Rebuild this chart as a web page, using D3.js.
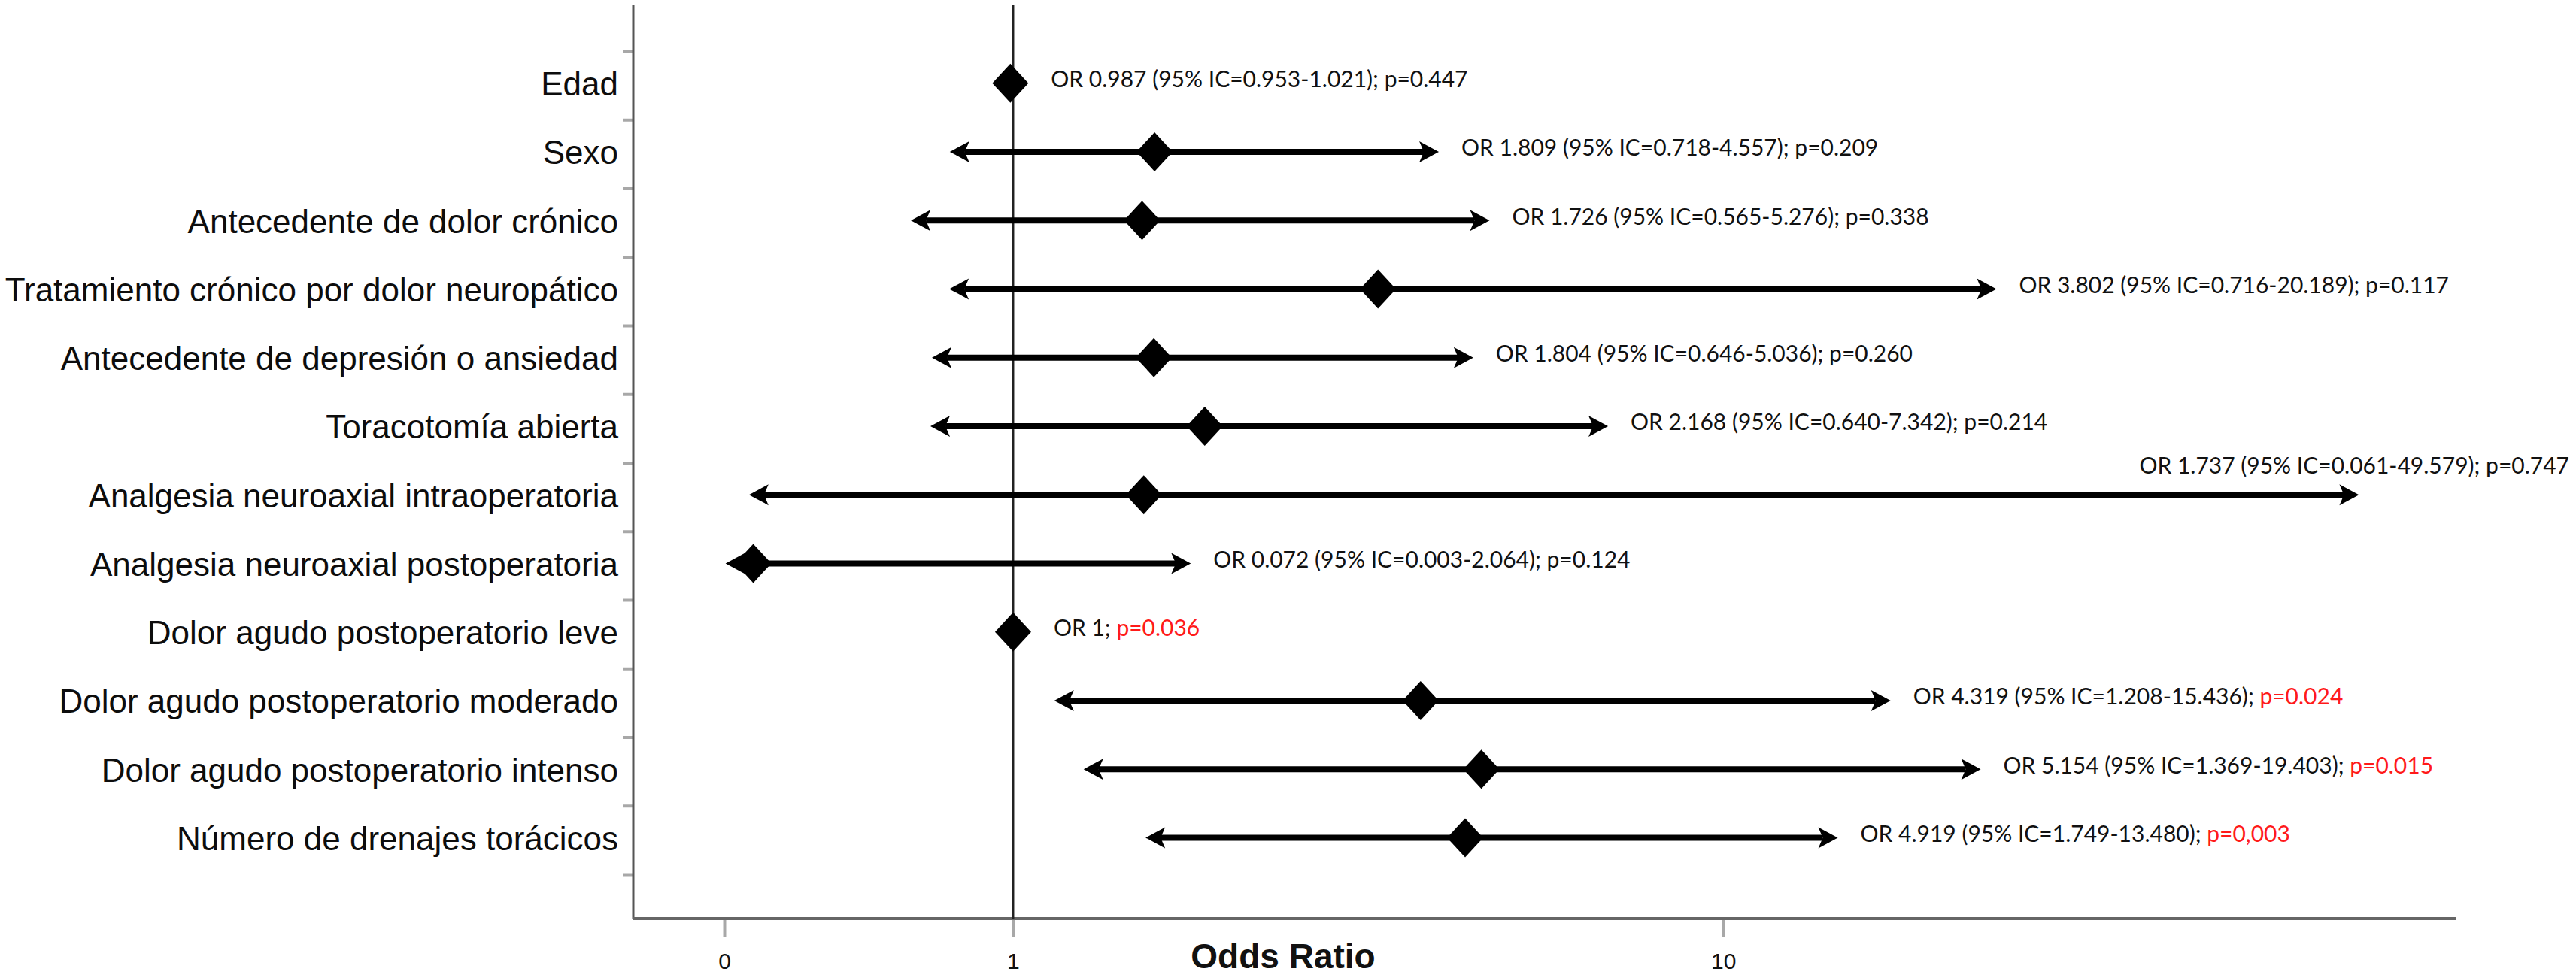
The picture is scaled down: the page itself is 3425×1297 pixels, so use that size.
<!DOCTYPE html>
<html>
<head>
<meta charset="utf-8">
<script src="https://cdn.jsdelivr.net/npm/d3@7"></script>
<style>
  html, body { margin: 0; padding: 0; background: #ffffff; }
  svg { display: block; }
</style>
</head>
<body>
<svg id="chart" width="3425" height="1297"></svg>
<script>
// ---------------- DATA ----------------
const categories = [
  "Edad",
  "Sexo",
  "Antecedente de dolor crónico",
  "Tratamiento crónico por dolor neuropático",
  "Antecedente de depresión o ansiedad",
  "Toracotomía abierta",
  "Analgesia neuroaxial intraoperatoria",
  "Analgesia neuroaxial postoperatoria",
  "Dolor agudo postoperatorio leve",
  "Dolor agudo postoperatorio moderado",
  "Dolor agudo postoperatorio intenso",
  "Número de drenajes torácicos"
];
const oddsRatios = [0.987, 1.809, 1.726, 3.802, 1.804, 2.168, 1.737, 0.072, 1, 4.319, 5.154, 4.919];
const ciLower    = [0.953, 0.718, 0.565, 0.716, 0.646, 0.640, 0.061, 0.003, null, 1.208, 1.369, 1.749];
const ciUpper    = [1.021, 4.557, 5.276, 20.189, 5.036, 7.342, 49.579, 2.064, null, 15.436, 19.403, 13.480];
const pLabels    = ["0.447", "0.209", "0.338", "0.117", "0.260", "0.214", "0.747", "0.124", "0.036", "0.024", "0.015", "0,003"];
const pSignificant = [false, false, false, false, false, false, false, false, true, true, true, true];
const xTickValues = [0, 1, 10];
const xTickLabels = ["0", "1", "10"];
const xAxisTitle = "Odds Ratio";

// ---------------- LAYOUT ----------------
const W = 3425, H = 1297;
const axisX = 842, axisTop = 6, axisBottom = 1222, axisRight = 3265;
const svg = d3.select("#chart");
svg.append("rect").attr("width", W).attr("height", H).attr("fill", "#ffffff");

const x = d3.scaleSymlog().constant(1).domain([0, 50]).range([963, 3141]);
const y = d3.scaleBand().domain(categories).range([68, 1163]).padding(0);
const yIdx = d3.scaleLinear().domain([0, categories.length]).range([68, 1163]);
const fmt = d3.format(".3f");

// y axis ticks (band boundaries)
const gy = svg.append("g").attr("transform", `translate(${axisX},0)`)
  .call(d3.axisLeft(yIdx).tickValues(d3.range(categories.length + 1)).tickSize(14).tickFormat(""));
gy.select(".domain").remove();
gy.selectAll(".tick line").attr("stroke", "#a8a8a8").attr("stroke-width", 4);

// x axis ticks + labels
const gx = svg.append("g").attr("transform", `translate(0,${axisBottom})`)
  .call(d3.axisBottom(x).tickValues(xTickValues).tickSize(24).tickPadding(22)
        .tickFormat((d, i) => xTickLabels[i]));
gx.select(".domain").remove();
gx.selectAll(".tick line").attr("stroke", "#a8a8a8").attr("stroke-width", 4);
gx.selectAll(".tick text").attr("font-family", "Liberation Sans, Arial, sans-serif")
  .attr("font-size", 30).attr("fill", "#111");

// axis lines
svg.append("line").attr("x1", axisX).attr("x2", axisX).attr("y1", axisTop).attr("y2", axisBottom)
  .attr("stroke", "#555").attr("stroke-width", 3);
svg.append("line").attr("x1", axisX - 1).attr("x2", axisRight).attr("y1", axisBottom).attr("y2", axisBottom)
  .attr("stroke", "#666").attr("stroke-width", 4);

// reference line at OR = 1
svg.append("line").attr("x1", x(1)).attr("x2", x(1)).attr("y1", axisTop).attr("y2", axisBottom)
  .attr("stroke", "#222").attr("stroke-width", 3);

// x axis title
svg.append("text").attr("x", 1706).attr("y", 1288).attr("text-anchor", "middle")
  .attr("font-family", "Liberation Sans, Arial, sans-serif").attr("font-weight", "bold")
  .attr("font-size", 46).attr("fill", "#111").text(xAxisTitle);

// category labels
svg.append("g").selectAll("text").data(categories).join("text")
  .attr("x", 822).attr("y", d => y(d) + y.bandwidth() / 2 - 2).attr("dy", "0.35em")
  .attr("text-anchor", "end")
  .attr("font-family", "Liberation Sans, Arial, sans-serif").attr("font-size", 44).attr("fill", "#0d0d0d")
  .text(d => d);

// marks
const hw = 24, hh = 26;          // diamond half-width/half-height
const aLen = 26, aHalf = 14, aNotch = 6;
const rows = categories.map((c, i) => ({
  cat: c, or: oddsRatios[i], lo: ciLower[i], hi: ciUpper[i], p: pLabels[i], sig: pSignificant[i]
}));
const gm = svg.append("g");
rows.forEach(r => {
  const cy = y(r.cat) + y.bandwidth() / 2 - 3;
  const cx = x(r.or);
  if (r.lo != null) {
    const xl = x(r.lo), xh = x(r.hi);
    const showL = cx - xl > hw, showR = xh - cx > hw;
    const x1 = showL ? xl + aLen - aNotch : cx;
    const x2 = showR ? xh - aLen + aNotch : cx;
    if (showL || showR) {
      gm.append("line").attr("x1", x1).attr("x2", x2).attr("y1", cy).attr("y2", cy)
        .attr("stroke", "#000").attr("stroke-width", 8);
    }
    if (showL) {
      gm.append("path").attr("fill", "#000")
        .attr("d", `M${xl},${cy} L${xl + aLen},${cy - aHalf} L${xl + aLen - aNotch},${cy} L${xl + aLen},${cy + aHalf} Z`);
    }
    if (showR) {
      gm.append("path").attr("fill", "#000")
        .attr("d", `M${xh},${cy} L${xh - aLen},${cy - aHalf} L${xh - aLen + aNotch},${cy} L${xh - aLen},${cy + aHalf} Z`);
    }
  }
  gm.append("path").attr("fill", "#000")
    .attr("d", `M${cx},${cy - hh} L${cx + hw},${cy} L${cx},${cy + hh} L${cx - hw},${cy} Z`);

  // annotation
  const tx = Math.max(r.hi != null ? x(r.hi) : cx, cx + hw) + 30;
  const t = gm.append("text").attr("x", tx).attr("y", cy - 5).attr("dy", "0.35em")
    .attr("font-family", "Lato, 'Open Sans', sans-serif").attr("font-size", 30).attr("fill", "#111");
  const main = r.lo != null
    ? `OR ${fmt(r.or)} (95% IC=${fmt(r.lo)}-${fmt(r.hi)}); `
    : `OR ${r.or}; `;
  t.append("tspan").text(main);
  t.append("tspan").attr("fill", r.sig ? "#ff1a1a" : "#111").text(`p=${r.p}`);
  const w = t.node().getComputedTextLength();
  if (tx + w > W - 6) {
    t.attr("x", W - 9).attr("text-anchor", "end").attr("y", cy - 39);
  }
});
</script>
</body>
</html>
